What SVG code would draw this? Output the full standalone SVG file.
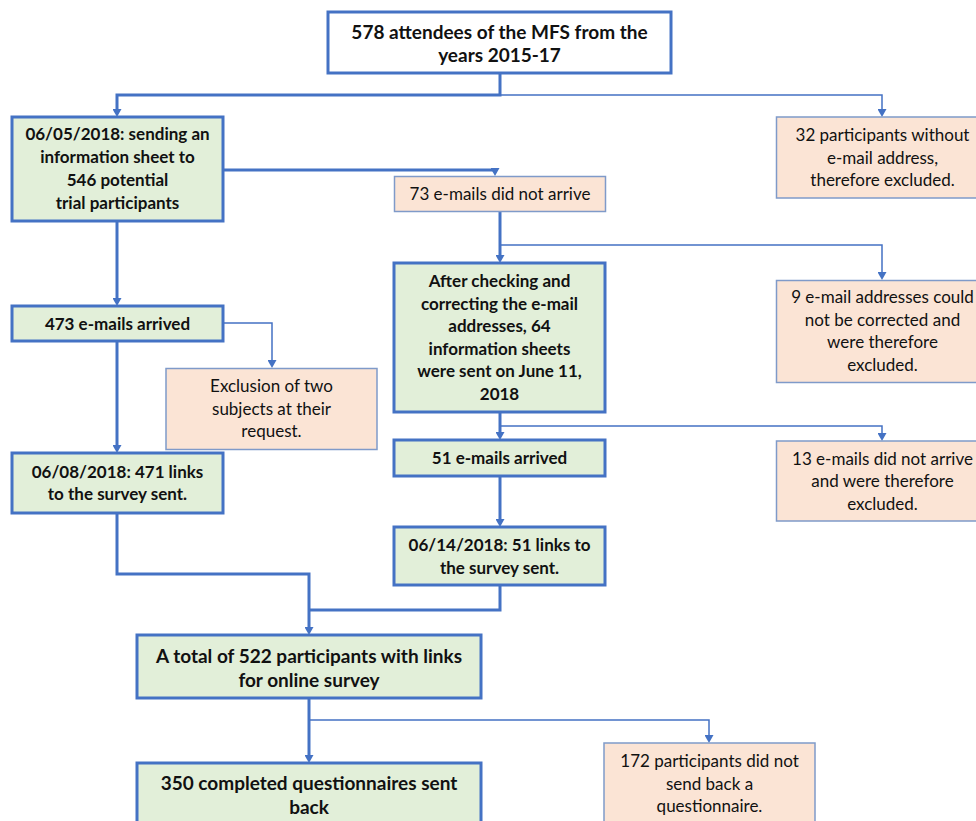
<svg xmlns="http://www.w3.org/2000/svg" width="976" height="821" viewBox="0 0 976 821">
<style>
  .g { fill: #E2EFD9; stroke: #4472C4; stroke-width: 3; }
  .w { fill: #FFFFFF; stroke: #4472C4; stroke-width: 3; }
  .o { fill: #FBE4D5; stroke: #7F9AC9; stroke-width: 1.5; }
  text { font-family: Lato, "Liberation Sans", sans-serif; font-size: 17px; fill: #111; text-anchor: middle; }
  .b { font-weight: bold; }
  .big { font-size: 19px; }
  .thick { fill: none; stroke: #4472C4; stroke-width: 3; }
  .thin { fill: none; stroke: #4472C4; stroke-width: 1.5; }
</style>
<defs>
  <marker id="ah" viewBox="0 0 8 9" markerWidth="8" markerHeight="9" refX="2" refY="4.5" orient="auto" markerUnits="userSpaceOnUse">
    <path d="M0,0 L8,4.5 L0,9 z" fill="#4472C4"/>
  </marker>
</defs>
<rect width="976" height="821" fill="#FFFFFF"/>

<g id="connectors">
  <path class="thick" d="M500,73 V95 H117 V111" marker-end="url(#ah)"/>
  <path class="thin" d="M500,95 H882 V111" marker-end="url(#ah)"/>
  <path class="thick" d="M223,170 H495"/>
  <path class="thick" d="M495,168 V170" marker-end="url(#ah)"/>
  <path class="thick" d="M117,221 V300" marker-end="url(#ah)"/>
  <path class="thin" d="M223,323 H272 V362" marker-end="url(#ah)"/>
  <path class="thick" d="M117,341 V447" marker-end="url(#ah)"/>
  <path class="thick" d="M117,513 V574 H309 V629" marker-end="url(#ah)"/>
  <path class="thick" d="M500,212 V257" marker-end="url(#ah)"/>
  <path class="thin" d="M500,245 H882 V274" marker-end="url(#ah)"/>
  <path class="thick" d="M500,412 V434" marker-end="url(#ah)"/>
  <path class="thin" d="M500,426 H882 V435" marker-end="url(#ah)"/>
  <path class="thick" d="M500,476 V521" marker-end="url(#ah)"/>
  <path class="thick" d="M500,585 V610 H309"/>
  <path class="thick" d="M309,698 V757" marker-end="url(#ah)"/>
  <path class="thin" d="M309,720 H709 V737" marker-end="url(#ah)"/>
</g>

<g id="n-start">
  <rect class="w" x="328" y="12" width="343" height="61"/>
  <text class="b big" x="499.5" y="38.5">578 attendees of the MFS from the</text>
  <text class="b big" x="499.5" y="61.5">years 2015-17</text>
</g>

<g id="n-info">
  <rect class="g" x="12" y="117" width="211" height="104"/>
  <text class="b" x="117.5" y="140">06/05/2018: sending an</text>
  <text class="b" x="117.5" y="163">information sheet to</text>
  <text class="b" x="117.5" y="186">546 potential</text>
  <text class="b" x="117.5" y="209">trial participants</text>
</g>

<g id="n-noemail">
  <rect class="o" x="776.5" y="117" width="212" height="81"/>
  <text x="882.5" y="141">32 participants without</text>
  <text x="882.5" y="163.5">e-mail address,</text>
  <text x="882.5" y="186">therefore excluded.</text>
</g>

<g id="n-notarrive73">
  <rect class="o" x="394.5" y="176.5" width="211" height="35"/>
  <text x="500" y="200">73 e-mails did not arrive</text>
</g>

<g id="n-check">
  <rect class="g" x="394" y="263" width="211" height="149"/>
  <text class="b" x="499.5" y="287">After checking and</text>
  <text class="b" x="499.5" y="309.5">correcting the e-mail</text>
  <text class="b" x="499.5" y="332">addresses, 64</text>
  <text class="b" x="499.5" y="354.5">information sheets</text>
  <text class="b" x="499.5" y="377">were sent on June 11,</text>
  <text class="b" x="499.5" y="399.5">2018</text>
</g>

<g id="n-notcorrected">
  <rect class="o" x="776.5" y="280.5" width="212" height="102"/>
  <text x="882.5" y="303">9 e-mail addresses could</text>
  <text x="882.5" y="325.5">not be corrected and</text>
  <text x="882.5" y="348">were therefore</text>
  <text x="882.5" y="370.5">excluded.</text>
</g>

<g id="n-arrived473">
  <rect class="g" x="12" y="306" width="211" height="35"/>
  <text class="b" x="117.5" y="329.5">473 e-mails arrived</text>
</g>

<g id="n-exclusion">
  <rect class="o" x="166" y="368.5" width="211" height="81"/>
  <text x="271.5" y="392">Exclusion of two</text>
  <text x="271.5" y="414.5">subjects at their</text>
  <text x="271.5" y="437">request.</text>
</g>

<g id="n-links471">
  <rect class="g" x="12" y="453" width="211" height="60"/>
  <text class="b" x="117.5" y="477.5">06/08/2018: 471 links</text>
  <text class="b" x="117.5" y="500">to the survey sent.</text>
</g>

<g id="n-arrived51">
  <rect class="g" x="394" y="440" width="211" height="36"/>
  <text class="b" x="499.5" y="464">51 e-mails arrived</text>
</g>

<g id="n-notarrive13">
  <rect class="o" x="776.5" y="441" width="212" height="80"/>
  <text x="882.5" y="464.5">13 e-mails did not arrive</text>
  <text x="882.5" y="487">and were therefore</text>
  <text x="882.5" y="509.5">excluded.</text>
</g>

<g id="n-links51">
  <rect class="g" x="394" y="527" width="211" height="58"/>
  <text class="b" x="499.5" y="551">06/14/2018: 51 links to</text>
  <text class="b" x="499.5" y="573.5">the survey sent.</text>
</g>

<g id="n-total">
  <rect class="g" x="137" y="635" width="344" height="63"/>
  <text class="b big" x="309" y="662.5">A total of 522 participants with links</text>
  <text class="b big" x="309" y="686.5">for online survey</text>
</g>

<g id="n-completed">
  <rect class="g" x="137" y="763" width="344" height="64"/>
  <text class="b big" x="309" y="790">350 completed questionnaires sent</text>
  <text class="b big" x="309" y="813.5">back</text>
</g>

<g id="n-noreturn">
  <rect class="o" x="604" y="743" width="211" height="81"/>
  <text x="709.5" y="767">172 participants did not</text>
  <text x="709.5" y="789.5">send back a</text>
  <text x="709.5" y="812">questionnaire.</text>
</g>
</svg>
